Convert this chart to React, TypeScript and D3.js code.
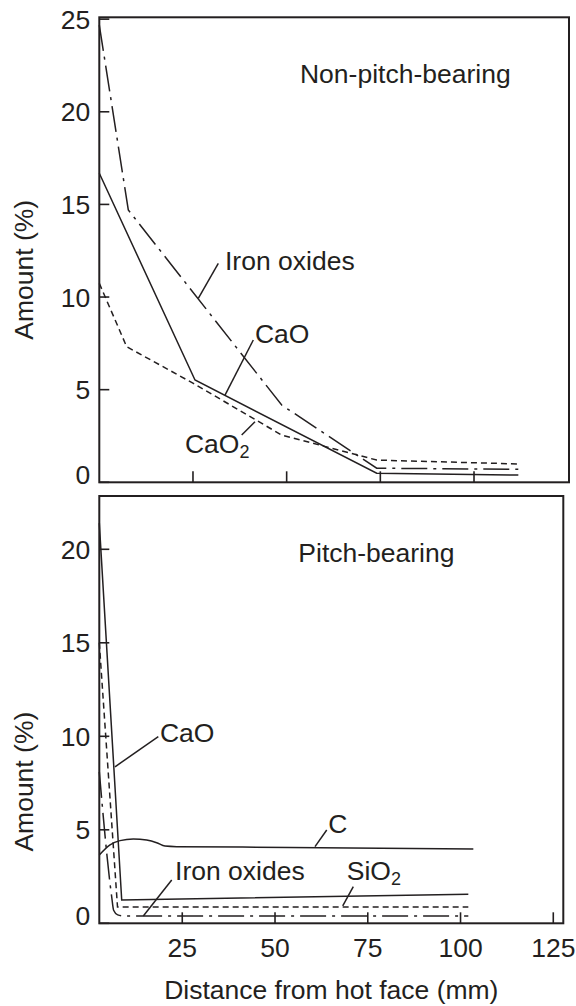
import React from "react";
import * as d3 from "d3";

// ---------- data ----------
// Top panel: non-pitch-bearing (distance mm, amount %)
const topIronX = [0, 7.74, 48.67, 74.03, 111.83];
const topIronY = [24.68, 14.7, 4.17, 0.76, 0.7];
const topCaOX = [0, 25.54, 74.03, 111.83];
const topCaOY = [16.68, 5.52, 0.49, 0.39];
const topCaO2X = [0, 7.3, 25.1, 48.67, 74.03, 111.83];
const topCaO2Y = [10.74, 7.32, 5.34, 2.55, 1.2, 0.99];

// Bottom panel: pitch-bearing
const botCaOX = [2.64, 8.68, 102.1];
const botCaOY = [21.4, 1.25, 1.55];
const botSiO2X = [2.64, 7.55, 102.1];
const botSiO2Y = [15.0, 0.87, 0.87];
const botIronX = [2.64, 5.98, 6.5, 7.6, 9.1, 102.1];
const botIronY = [8.1, 1.42, 0.7, 0.45, 0.39, 0.39];
const botCX = [2.64, 5.53, 8.22, 11.8, 15.4, 18.1, 20.35, 23.5, 54, 103.45];
const botCY = [3.65, 4.19, 4.42, 4.51, 4.45, 4.31, 4.13, 4.1, 4.06, 3.97];

const topYTicks = [0, 5, 10, 15, 20, 25];
const topXTicks = [25, 50, 75, 100];
const botYTicks = [0, 5, 10, 15, 20];
const botXTicks = [25, 50, 75, 100, 125];

const yTitle = "Amount (%)";
const xTitle = "Distance from hot face (mm)";

// ---------- layout ----------
const W = 576;
const H = 1006;
const INK = "#231f20";
const FONT = "'Liberation Sans', Arial, Helvetica, sans-serif";
const FS = 26.5;
const SUB = 18;

const topX = d3.scaleLinear().domain([0, 125.35]).range([99.3, 569]);
const topY = d3.scaleLinear().domain([0, 25.1]).range([482.3, 17.3]);
const botX = d3.scaleLinear().domain([2.64, 127.7]).range([99.3, 563.3]);
const botY = d3.scaleLinear().domain([0, 22.85]).range([923.3, 496]);

const DASH = "6 4";
const DASHDOT = "26 6 3 6";

type Sx = d3.ScaleLinear<number, number>;

function pathOf(xs: number[], ys: number[], sx: Sx, sy: Sx, curve: any = d3.curveLinear) {
  const pts = xs.map((x, i) => [x, ys[i]] as [number, number]);
  return (
    d3
      .line<[number, number]>()
      .x((d) => sx(d[0]))
      .y((d) => sy(d[1]))
      .curve(curve)(pts) || ""
  );
}

function Panel({
  sx,
  sy,
  xTicks,
  yTicks,
  showXLabels,
}: {
  sx: Sx;
  sy: Sx;
  xTicks: number[];
  yTicks: number[];
  showXLabels: boolean;
}) {
  const [x0, x1] = sx.range();
  const [y0, y1] = sy.range();
  return (
    <g>
      <rect
        x={x0}
        y={y1}
        width={x1 - x0}
        height={y0 - y1}
        fill="none"
        stroke={INK}
        strokeWidth={2}
      />
      {yTicks.map((t) => (
        <g key={"y" + t}>
          <line x1={x0} x2={x0 + 10} y1={sy(t)} y2={sy(t)} stroke={INK} strokeWidth={1.6} />
          <text
            x={x0 - 9}
            y={sy(t) + (t === 0 ? -8 : 0)}
            dy="0.36em"
            textAnchor="end"
            fontSize={FS}
            fontFamily={FONT}
            fill={INK}
          >
            {t}
          </text>
        </g>
      ))}
      {xTicks.map((t) => (
        <g key={"x" + t}>
          <line x1={sx(t)} x2={sx(t)} y1={y0} y2={y0 - 11} stroke={INK} strokeWidth={1.6} />
          {showXLabels && (
            <text
              x={sx(t)}
              y={y0 + 34}
              textAnchor="middle"
              fontSize={FS}
              fontFamily={FONT}
              fill={INK}
            >
              {t}
            </text>
          )}
        </g>
      ))}
    </g>
  );
}

function Label({
  sx,
  sy,
  x,
  y,
  text,
  sub,
  leader,
}: {
  sx: Sx;
  sy: Sx;
  x: number;
  y: number;
  text: string;
  sub?: string;
  leader?: [number, number, number, number];
}) {
  return (
    <g>
      {leader && (
        <line
          x1={sx(leader[0])}
          y1={sy(leader[1])}
          x2={sx(leader[2])}
          y2={sy(leader[3])}
          stroke={INK}
          strokeWidth={1.5}
        />
      )}
      <text x={sx(x)} y={sy(y)} fontSize={FS} fontFamily={FONT} fill={INK}>
        {text}
        {sub && (
          <tspan fontSize={SUB} dy={5}>
            {sub}
          </tspan>
        )}
      </text>
    </g>
  );
}

export default function App() {
  const lineStyle = { fill: "none", stroke: INK, strokeWidth: 1.5 } as const;
  return (
    <svg
      width={W}
      height={H}
      viewBox={`0 0 ${W} ${H}`}
      style={{ position: "absolute", left: 0, top: 0, background: "#fff" }}
    >
      <rect x={0} y={0} width={W} height={H} fill="#fff" />

      {/* Top panel */}
      <Panel sx={topX} sy={topY} xTicks={topXTicks} yTicks={topYTicks} showXLabels={false} />
      <path d={pathOf(topIronX, topIronY, topX, topY)} {...lineStyle} strokeDasharray={DASHDOT} />
      <path d={pathOf(topCaOX, topCaOY, topX, topY)} {...lineStyle} />
      <path d={pathOf(topCaO2X, topCaO2Y, topX, topY)} {...lineStyle} strokeDasharray={DASH} />
      <Label sx={topX} sy={topY} x={53.56} y={21.56} text="Non-pitch-bearing" />
      <Label sx={topX} sy={topY} x={33.55} y={11.46} text="Iron oxides" leader={[31.76, 11.82, 26.42, 9.93]} />
      <Label sx={topX} sy={topY} x={41.55} y={7.52} text="CaO" leader={[41.1, 7.68, 33.55, 4.71]} />
      <Label sx={topX} sy={topY} x={22.87} y={1.57} text="CaO" sub="2" leader={[38.0, 2.55, 41.55, 3.27]} />

      {/* Bottom panel */}
      <Panel sx={botX} sy={botY} xTicks={botXTicks} yTicks={botYTicks} showXLabels={true} />
      <path d={pathOf(botCaOX, botCaOY, botX, botY)} {...lineStyle} />
      <path d={pathOf(botSiO2X, botSiO2Y, botX, botY)} {...lineStyle} strokeDasharray={DASH} />
      <path d={pathOf(botIronX, botIronY, botX, botY, d3.curveMonotoneX)} {...lineStyle} strokeDasharray={DASHDOT} />
      <path d={pathOf(botCX, botCY, botX, botY, d3.curveMonotoneX)} {...lineStyle} />
      <Label sx={botX} sy={botY} x={56.28} y={19.34} text="Pitch-bearing" />
      <Label sx={botX} sy={botY} x={19.0} y={9.67} text="CaO" leader={[18.54, 9.98, 6.87, 8.37]} />
      <Label sx={botX} sy={botY} x={64.37} y={4.81} text="C" leader={[63.94, 4.99, 60.78, 4.1]} />
      <Label sx={botX} sy={botY} x={23.05} y={2.32} text="Iron oxides" leader={[22.16, 2.32, 14.5, 0.39]} />
      <Label sx={botX} sy={botY} x={69.33} y={2.32} text="SiO" sub="2" leader={[71.1, 1.96, 68.25, 0.93]} />

      {/* Axis titles */}
      <text
        transform={`translate(33, ${(topY.range()[0] + topY.range()[1]) / 2 + 20}) rotate(-90)`}
        textAnchor="middle"
        fontSize={FS}
        fontFamily={FONT}
        fill={INK}
      >
        {yTitle}
      </text>
      <text
        transform={`translate(33, ${(botY.range()[0] + botY.range()[1]) / 2 + 72}) rotate(-90)`}
        textAnchor="middle"
        fontSize={FS}
        fontFamily={FONT}
        fill={INK}
      >
        {yTitle}
      </text>
      <text
        x={(botX.range()[0] + botX.range()[1]) / 2}
        y={999}
        textAnchor="middle"
        fontSize={FS}
        fontFamily={FONT}
        fill={INK}
      >
        {xTitle}
      </text>
    </svg>
  );
}
